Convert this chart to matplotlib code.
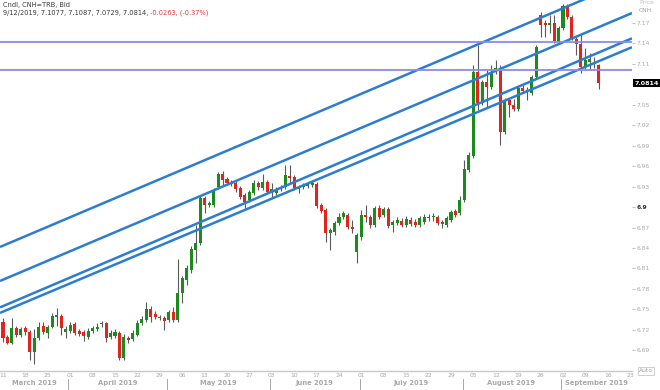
import numpy as np
import pandas as pd
import matplotlib
matplotlib.use('Agg')
import matplotlib.pyplot as plt
from matplotlib.transforms import blended_transform_factory

# daily CNH candles, 11 Mar - 12 Sep 2019
dates = pd.bdate_range('2019-03-11', '2019-09-12')

opens = [
    6.732, 6.710, 6.701, 6.723, 6.713, 6.723, 6.717, 6.688, 6.708, 6.726,
    6.716, 6.724, 6.739, 6.740, 6.717, 6.719, 6.729, 6.719, 6.717, 6.710,
    6.719, 6.721, 6.730, 6.730, 6.710, 6.711, 6.716, 6.679, 6.708, 6.707,
    6.713, 6.730, 6.735, 6.751, 6.743, 6.739, 6.737, 6.735, 6.746, 6.735,
    6.774, 6.793, 6.808, 6.837, 6.847, 6.913, 6.903, 6.903, 6.929, 6.948,
    6.941, 6.934, 6.935, 6.928, 6.918, 6.910, 6.921, 6.935, 6.928, 6.937,
    6.922, 6.921, 6.926, 6.929, 6.945, 6.944, 6.926, 6.929, 6.931, 6.932,
    6.934, 6.903, 6.896, 6.862, 6.863, 6.877, 6.885, 6.888, 6.871, 6.834,
    6.856, 6.888, 6.885, 6.874, 6.899, 6.888, 6.897, 6.874, 6.877, 6.880,
    6.874, 6.881, 6.878, 6.874, 6.878, 6.884, 6.885, 6.885, 6.878, 6.874,
    6.881, 6.894, 6.891, 6.910, 6.954, 6.975, 7.098, 7.052, 7.083, 7.076,
    7.098, 7.104, 7.010, 7.057, 7.049, 7.044, 7.074, 7.071, 7.067, 7.090,
    7.181, 7.170, 7.167, 7.170, 7.142, 7.162, 7.193, 7.178, 7.146, 7.139,
    7.105, 7.112, 7.109, 7.1077]
highs = [
    6.737, 6.713, 6.737, 6.726, 6.724, 6.726, 6.720, 6.721, 6.732, 6.732,
    6.727, 6.745, 6.752, 6.743, 6.726, 6.732, 6.732, 6.721, 6.720, 6.723,
    6.726, 6.730, 6.733, 6.732, 6.720, 6.721, 6.719, 6.714, 6.711, 6.720,
    6.735, 6.741, 6.761, 6.755, 6.748, 6.742, 6.740, 6.749, 6.753, 6.824,
    6.799, 6.815, 6.843, 6.874, 6.916, 6.916, 6.909, 6.928, 6.951, 6.953,
    6.944, 6.940, 6.938, 6.931, 6.921, 6.925, 6.940, 6.938, 6.948, 6.940,
    6.935, 6.929, 6.932, 6.962, 6.962, 6.947, 6.932, 6.935, 6.935, 6.938,
    6.937, 6.906, 6.899, 6.869, 6.880, 6.891, 6.894, 6.891, 6.881, 6.862,
    6.896, 6.903, 6.888, 6.902, 6.903, 6.900, 6.900, 6.881, 6.885, 6.884,
    6.887, 6.885, 6.882, 6.887, 6.890, 6.890, 6.891, 6.888, 6.881, 6.887,
    6.896, 6.897, 6.916, 6.969, 6.981, 7.108, 7.137, 7.086, 7.101, 7.108,
    7.115, 7.108, 7.060, 7.060, 7.058, 7.077, 7.079, 7.076, 7.093, 7.137,
    7.186, 7.174, 7.181, 7.181, 7.165, 7.197, 7.197, 7.181, 7.149, 7.152,
    7.133, 7.126, 7.120, 7.1087]
lows = [
    6.702, 6.700, 6.700, 6.710, 6.710, 6.713, 6.676, 6.670, 6.705, 6.714,
    6.708, 6.723, 6.726, 6.713, 6.708, 6.716, 6.713, 6.711, 6.704, 6.707,
    6.716, 6.719, 6.724, 6.702, 6.707, 6.708, 6.676, 6.676, 6.701, 6.704,
    6.711, 6.727, 6.732, 6.732, 6.736, 6.735, 6.720, 6.732, 6.732, 6.732,
    6.759, 6.786, 6.803, 6.818, 6.844, 6.891, 6.900, 6.900, 6.926, 6.932,
    6.932, 6.931, 6.922, 6.912, 6.899, 6.907, 6.918, 6.925, 6.925, 6.919,
    6.915, 6.918, 6.923, 6.926, 6.935, 6.925, 6.921, 6.926, 6.928, 6.929,
    6.899, 6.891, 6.849, 6.837, 6.859, 6.874, 6.883, 6.868, 6.862, 6.818,
    6.852, 6.878, 6.869, 6.871, 6.883, 6.885, 6.869, 6.863, 6.874, 6.871,
    6.871, 6.872, 6.871, 6.871, 6.875, 6.880, 6.880, 6.874, 6.869, 6.871,
    6.878, 6.885, 6.888, 6.907, 6.951, 6.972, 7.042, 7.049, 7.045, 7.073,
    7.095, 6.991, 7.007, 7.032, 7.041, 7.041, 7.067, 7.057, 7.064, 7.087,
    7.149, 7.149, 7.155, 7.140, 7.139, 7.159, 7.175, 7.145, 7.123, 7.096,
    7.101, 7.101, 7.103, 7.0729]
closes = [
    6.708, 6.701, 6.723, 6.713, 6.721, 6.717, 6.688, 6.708, 6.724, 6.717,
    6.724, 6.740, 6.742, 6.723, 6.721, 6.727, 6.716, 6.714, 6.711, 6.719,
    6.723, 6.724, 6.729, 6.708, 6.716, 6.717, 6.679, 6.710, 6.705, 6.716,
    6.730, 6.736, 6.751, 6.739, 6.739, 6.737, 6.733, 6.746, 6.735, 6.774,
    6.796, 6.811, 6.839, 6.847, 6.913, 6.903, 6.906, 6.925, 6.948, 6.940,
    6.935, 6.937, 6.926, 6.915, 6.907, 6.922, 6.935, 6.929, 6.937, 6.922,
    6.926, 6.926, 6.929, 6.947, 6.942, 6.928, 6.929, 6.932, 6.934, 6.935,
    6.902, 6.894, 6.862, 6.866, 6.877, 6.885, 6.891, 6.871, 6.868, 6.859,
    6.888, 6.885, 6.874, 6.899, 6.885, 6.897, 6.872, 6.878, 6.881, 6.874,
    6.882, 6.875, 6.874, 6.884, 6.885, 6.885, 6.886, 6.877, 6.875, 6.884,
    6.893, 6.888, 6.910, 6.956, 6.976, 7.098, 7.052, 7.083, 7.076, 7.096,
    7.104, 7.010, 7.057, 7.049, 7.044, 7.074, 7.070, 7.068, 7.090, 7.134,
    7.167, 7.167, 7.170, 7.143, 7.162, 7.194, 7.178, 7.148, 7.139, 7.105,
    7.115, 7.117, 7.111, 7.0814]

# drawn trend lines: price at left edge and at right edge of the plot
trend_left = [6.8415, 6.7917, 6.753, 6.745]
trend_right = [7.2338, 7.184, 7.147, 7.134]
# horizontal levels
levels = [7.1416, 7.1006]

yticks = [6.69, 6.72, 6.75, 6.78, 6.81, 6.84, 6.87, 6.9, 6.93, 6.96,
          6.99, 7.02, 7.05, 7.08, 7.11, 7.14, 7.17]
last_price = 7.0814
header1 = 'Cndl, CNH=TRB, Bid'
header2 = '9/12/2019, 7.1077, 7.1087, 7.0729, 7.0814, '
header_chg = '-0.0263, (-0.37%)'

GREEN = '#1c8a1c'
RED = '#e3241d'
BLUE = '#2c7dd2'
PURPLE = '#8c8ce6'
GRAY = '#a8a8a8'

o = np.array(opens); h = np.array(highs); l = np.array(lows); c = np.array(closes)
x = np.arange(len(dates))

fig = plt.figure(figsize=(6.6, 3.9), dpi=100)
ax = fig.add_axes([0, 19 / 390, 632 / 660, 371 / 390])
xlim = (-0.67, 140.4)
ax.set_xlim(*xlim)
ax.set_ylim(6.6599, 7.2031)

up = c >= o
ax.vlines(x, l, h, color='#5a5a5a', lw=0.8, zorder=2)
ax.bar(x, np.maximum(np.abs(c - o), 0.0013), bottom=np.minimum(o, c), width=0.68,
       color=np.where(up, GREEN, RED), linewidth=0, zorder=3)

for p0, p1 in zip(trend_left, trend_right):
    ax.plot(xlim, [p0, p1], color=BLUE, lw=1.8, zorder=4, solid_capstyle='butt')
for lv in levels:
    ax.axhline(lv, color=PURPLE, lw=1.5, alpha=0.9, zorder=4)

# spines
for s in ['top', 'left', 'right']:
    ax.spines[s].set_visible(False)
ax.spines['bottom'].set_color('#c8c8c8')
ax.spines['bottom'].set_linewidth(1)

# y axis on the right
ax.yaxis.tick_right()
ax.set_yticks(yticks)
ax.set_yticklabels(['' if abs(t - 7.08) < 1e-9 else f'{t:g}' for t in yticks])
ax.tick_params(axis='y', length=2.5, width=0.6, color='#b8b8b8', pad=1,
               labelsize=4.3, labelcolor=GRAY)
for lab, t in zip(ax.get_yticklabels(), yticks):
    if abs(t - 6.9) < 1e-9:
        lab.set_color('#333333')
        lab.set_fontweight('bold')

# x axis: Mondays
mondays = pd.date_range('2019-03-11', '2019-09-23', freq='W-MON')
tick_x = np.busday_count(np.datetime64('2019-03-11'), mondays.values.astype('datetime64[D]'))
ax.set_xticks(tick_x)
ax.set_xticklabels([d.strftime('%d') for d in mondays])
ax.tick_params(axis='x', length=0, pad=1.5, labelsize=4.3, labelcolor=GRAY)

# month labels and separators
bt = blended_transform_factory(ax.transData, ax.transAxes)
all_days = pd.bdate_range('2019-03-11', '2019-09-23')
months = all_days.to_period('M')
for m in months.unique():
    idx = np.where(months == m)[0]
    mid = (idx[0] + idx[-1]) / 2
    ax.text(mid, -0.024, m.strftime('%B %Y'), transform=bt, ha='center', va='top',
            fontsize=4.9, color=GRAY, fontweight='bold', clip_on=False)
    if idx[0] > 0:
        ax.plot([idx[0] - 0.4] * 2, [-0.022, -0.05], transform=bt, color=GRAY,
                lw=0.7, clip_on=False)

# last price box
bt_y = blended_transform_factory(ax.transAxes, ax.transData)
ax.text(1.004, last_price, f'{last_price:.4f}', transform=bt_y, ha='left', va='center',
        fontsize=4.6, color='white', fontweight='bold', clip_on=False,
        bbox=dict(facecolor='black', edgecolor='none', pad=1.2))

fig.text(639 / 660, 1 - 3 / 390, 'Price', fontsize=4.3, color='#c0c0c0', va='center')
fig.text(639 / 660, 1 - 11 / 390, 'CNH', fontsize=4.3, color='#a0a0a0', va='center')
fig.text(639 / 660, 1 - 371 / 390, 'Auto', fontsize=4.3, color='#a0a0a0', va='center',
         bbox=dict(facecolor='white', edgecolor='#c8c8c8', pad=0.8, lw=0.6))

# header text
fig.text(3 / 660, 1 - 5 / 390, header1, fontsize=4.8, color='#3a3a3a', va='center')
t2 = fig.text(3 / 660, 1 - 13 / 390, header2, fontsize=4.8, color='#3a3a3a', va='center')
fig.canvas.draw()
bb = t2.get_window_extent(fig.canvas.get_renderer())
fig.text(bb.x1 / fig.bbox.width, 1 - 13 / 390, header_chg, fontsize=4.8,
         color='#e03a3a', va='center')

fig.savefig('out.png', dpi=100)
